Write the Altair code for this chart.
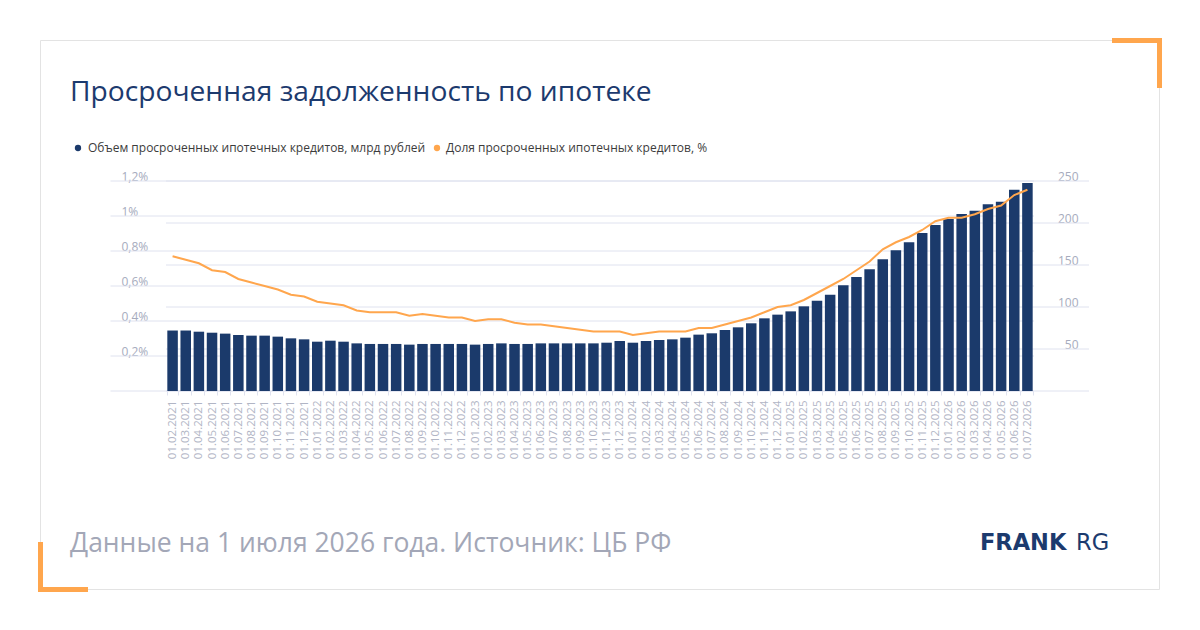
import altair as alt
import pandas as pd

# ---------------- data ----------------
dates = [f"01.{m:02d}.{y}" for y in range(2021, 2027) for m in range(1, 13)]
dates = dates[1:dates.index("01.07.2026") + 1]

volume = [72.0, 72.0, 70.6, 69.4, 68.3, 66.7, 65.9, 65.9, 64.7, 62.7,
          61.5, 58.7, 59.9, 58.7, 56.7, 56.0, 56.0, 56.0, 55.2, 56.0,
          56.0, 56.0, 56.0, 55.2, 56.0, 56.7, 56.0, 56.0, 56.7, 56.7,
          56.7, 56.7, 56.7, 57.5, 59.5, 57.5, 59.5, 60.7, 61.5, 63.5,
          67.1, 68.7, 72.6, 75.8, 80.6, 86.5, 90.9, 94.8, 100.8, 107.5,
          114.7, 125.8, 135.7, 144.8, 156.7, 167.5, 177.0, 188.1, 197.6, 204.8,
          210.7, 214.7, 222.2, 225.4, 239.7, 247.6]

share = [0.77, 0.75, 0.73, 0.69, 0.68, 0.64, 0.62, 0.60, 0.58, 0.55,
         0.54, 0.51, 0.50, 0.49, 0.46, 0.45, 0.45, 0.45, 0.43, 0.44,
         0.43, 0.42, 0.42, 0.40, 0.41, 0.41, 0.39, 0.38, 0.38, 0.37,
         0.36, 0.35, 0.34, 0.34, 0.34, 0.32, 0.33, 0.34, 0.34, 0.34,
         0.36, 0.36, 0.38, 0.40, 0.42, 0.45, 0.48, 0.49, 0.52, 0.56,
         0.60, 0.64, 0.69, 0.74, 0.81, 0.85, 0.88, 0.92, 0.97, 0.99,
         0.99, 1.01, 1.04, 1.06, 1.12, 1.15]

left_ticks = [0.2, 0.4, 0.6, 0.8, 1.0, 1.2]
right_ticks = [50, 100, 150, 200, 250]

title_text = "Просроченная задолженность по ипотеке"
legend_vol = "Объем просроченных ипотечных кредитов, млрд рублей"
legend_share = "Доля просроченных ипотечных кредитов, %"
footer_text = "Данные на 1 июля 2026 года. Источник: ЦБ РФ"

df = pd.DataFrame({"date": dates, "vol": volume, "pct": share})

# ---------------- layout ----------------
OX, OY = 166, 181          # plot origin on the page
W, H = 868, 210

NAVY = "#1b3a6b"
ORANGE = "#ffa64d"
GRID = "#dfe2ef"
LABEL = "#a6abbd"
FONT = "Open Sans"


def X(px):
    return alt.value(px - OX)


def Y(py):
    return alt.value(py - OY)


one = pd.DataFrame({"k": [0]})

frame = alt.Chart(one).mark_rect(fill="transparent", stroke="#e3e3e3", strokeWidth=1).encode(
    x=X(40.5), x2=X(1159.5), y=Y(40.5), y2=Y(589.5))

c1 = alt.Chart(one).mark_rect(color=ORANGE).encode(x=X(1112), x2=X(1162), y=Y(38), y2=Y(43))
c2 = alt.Chart(one).mark_rect(color=ORANGE).encode(x=X(1157), x2=X(1162), y=Y(38), y2=Y(88))
c3 = alt.Chart(one).mark_rect(color=ORANGE).encode(x=X(38), x2=X(43), y=Y(542), y2=Y(592))
c4 = alt.Chart(one).mark_rect(color=ORANGE).encode(x=X(38), x2=X(88), y=Y(587), y2=Y(592))

title = alt.Chart(one).mark_text(text=title_text, align="left", baseline="alphabetic",
                                 font=FONT, fontSize=28.2, color="#1c3a6e").encode(x=X(70), y=Y(101))

leg_dot1 = alt.Chart(one).mark_point(filled=True, shape="circle", size=40, color=NAVY, opacity=1).encode(
    x=X(78), y=Y(148))
leg_txt1 = alt.Chart(one).mark_text(text=legend_vol, align="left", baseline="middle",
                                    font=FONT, fontSize=12, color="#3c3c3c").encode(x=X(88), y=Y(148))
leg_dot2 = alt.Chart(one).mark_point(filled=True, shape="circle", size=40, color=ORANGE, opacity=1).encode(
    x=X(437), y=Y(148))
leg_txt2 = alt.Chart(one).mark_text(text=legend_share, align="left", baseline="middle",
                                    font=FONT, fontSize=12, color="#3c3c3c").encode(x=X(446), y=Y(148))

footer = alt.Chart(one).mark_text(text=footer_text, align="left", baseline="alphabetic",
                                  font=FONT, fontSize=26.5, color="#a3a7b7").encode(x=X(70), y=Y(552))

logo1 = alt.Chart(one).mark_text(text="FRANK", align="left", baseline="alphabetic",
                                 font="DejaVu Sans", fontWeight="bold", fontSize=22.5,
                                 color="#1c3a6e").encode(x=X(980), y=Y(550))
logo2 = alt.Chart(one).mark_text(text="RG", align="left", baseline="alphabetic",
                                 font="DejaVu Sans", fontSize=22.5,
                                 color="#1c3a6e").encode(x=X(1076), y=Y(550))

# gridlines
grid_left = alt.Chart(pd.DataFrame({"v": [0.0] + left_ticks})).mark_rule(color=GRID, strokeWidth=1).encode(
    y=alt.Y("v:Q", scale=alt.Scale(domain=[0, 1.2], nice=False), axis=None),
    x=alt.value(110.5 - OX), x2=alt.value(1034 - OX))
grid_right = alt.Chart(pd.DataFrame({"v": [0] + right_ticks})).mark_rule(color=GRID, strokeWidth=1).encode(
    y=alt.Y("v:Q", scale=alt.Scale(domain=[0, 250], nice=False), axis=None),
    x=alt.value(0), x2=alt.value(1089 - OX))

xscale = alt.Scale(paddingInner=0.2, paddingOuter=0.1)
xaxis = alt.Axis(labelAngle=270, labelFont=FONT, labelFontSize=11.5, labelColor="#b1b5c5",
                 tickColor=GRID, tickSize=4, tickBand="extent", domain=False, grid=False,
                 labelPadding=5, labelOverlap=False, title=None)

bars = alt.Chart(df).mark_bar(color=NAVY).encode(
    x=alt.X("date:N", sort=dates, scale=xscale, axis=xaxis),
    y=alt.Y("vol:Q", scale=alt.Scale(domain=[0, 250], nice=False),
            axis=alt.Axis(orient="right", values=right_ticks, grid=False, ticks=False, domain=False,
                          labelAlign="right", labelBaseline="alphabetic", labelPadding=44,
                          labelOffset=-1, labelFont=FONT, labelFontSize=12, labelColor=LABEL,
                          title=None)))

line = alt.Chart(df).mark_line(color=ORANGE, strokeWidth=2).encode(
    x=alt.X("date:N", sort=dates, scale=xscale, axis=xaxis),
    y=alt.Y("pct:Q", scale=alt.Scale(domain=[0, 1.2], nice=False),
            axis=alt.Axis(orient="left", values=left_ticks, grid=False, ticks=False, domain=False,
                          labelAlign="left", labelBaseline="alphabetic", labelPadding=45,
                          labelOffset=-1, labelFont=FONT, labelFontSize=12, labelColor=LABEL,
                          labelExpr="replace(format(datum.value, '.1~f'), '.', ',') + '%'",
                          title=None)))

chart = alt.layer(
    frame, c1, c2, c3, c4, title, leg_dot1, leg_txt1, leg_dot2, leg_txt2, footer, logo1, logo2,
    grid_left, grid_right, bars, line
).resolve_scale(y="independent").properties(
    width=W, height=H,
    autosize=alt.AutoSizeParams(type="none"),
    padding={"left": OX - 8, "top": OY - 8, "right": 1184 - (OX - 8) - W, "bottom": 614 - (OY - 8) - H},
    background="white",
).configure_view(strokeWidth=0)

chart.save("out.html", embed_options={"renderer": "svg", "actions": False})
